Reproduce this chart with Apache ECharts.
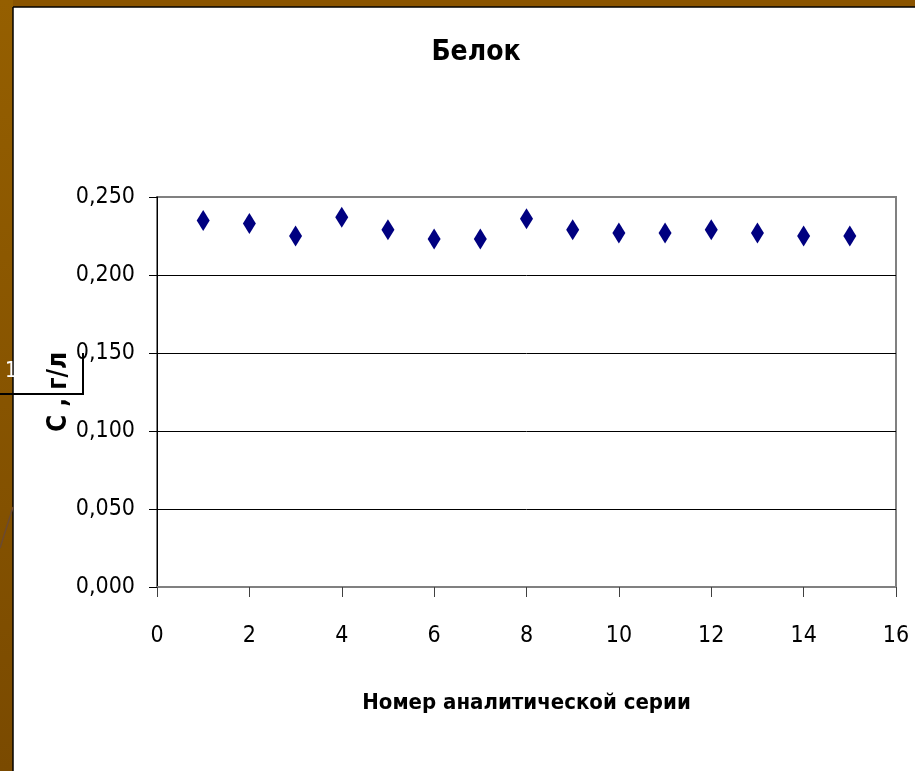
<!DOCTYPE html>
<html>
<head>
<meta charset="utf-8">
<script src="https://cdn.jsdelivr.net/npm/echarts@6/dist/echarts.min.js"></script>
<style>
html,body{margin:0;padding:0;background:#fff;}
#chart{width:915px;height:771px;}
</style>
</head>
<body>
<div id="chart"></div>
<script>
// ---- data ----
const seriesNumbers = [1, 2, 3, 4, 5, 6, 7, 8, 9, 10, 11, 12, 13, 14, 15];
const proteinValues = [0.235, 0.233, 0.225, 0.237, 0.229, 0.223, 0.223, 0.236, 0.229, 0.227, 0.227, 0.229, 0.227, 0.225, 0.225];
const titleText = 'Белок';
const xAxisTitle = 'Номер аналитической серии';
const yAxisTitle = 'С , г/л';

const FONT = "'Liberation Sans Narrow', 'Arial Narrow', 'DejaVu Sans Condensed', sans-serif";

const chart = echarts.init(document.getElementById('chart'), null, {renderer: 'canvas'});
const points = seriesNumbers.map((n, i) => [n, proteinValues[i]]);

chart.setOption({
  backgroundColor: '#ffffff',
  animation: false,
  title: {
    text: titleText,
    left: 471,
    textAlign: 'center',
    top: 34,
    textStyle: {fontFamily: FONT, fontWeight: 'bold', fontSize: 28, color: '#000'}
  },
  grid: {
    left: 157, right: 19, top: 197, bottom: 184,
    show: true, borderColor: '#808080', borderWidth: 2, backgroundColor: '#fff'
  },
  xAxis: {
    type: 'value', min: 0, max: 16, interval: 2,
    name: xAxisTitle, nameLocation: 'middle', nameGap: 105,
    nameTextStyle: {fontFamily: FONT, fontWeight: 'bold', fontSize: 22, color: '#000'},
    axisLine: {show: true, lineStyle: {color: '#808080', width: 2}},
    axisTick: {show: true, length: 10, lineStyle: {color: '#404040', width: 1}},
    axisLabel: {fontFamily: FONT, fontSize: 23, color: '#000', margin: 38},
    splitLine: {show: false}
  },
  yAxis: {
    type: 'value', min: 0, max: 0.25, interval: 0.05,
    name: yAxisTitle, nameLocation: 'middle', nameGap: 85, nameRotate: 90,
    nameMoveOverlap: false,
    nameTextStyle: {fontFamily: FONT, fontWeight: 'bold', fontSize: 26, color: '#000'},
    axisLine: {show: true, lineStyle: {color: '#000', width: 1}},
    axisTick: {show: true, length: 8, lineStyle: {color: '#000', width: 1}},
    axisLabel: {fontFamily: FONT, fontSize: 23, color: '#000', margin: 22,
      formatter: v => v.toFixed(3).replace('.', ',')},
    splitLine: {show: true, showMaxLine: false, lineStyle: {color: '#000', width: 1}}
  },
  series: [{
    type: 'scatter',
    data: points,
    symbol: 'diamond',
    symbolSize: [13, 21],
    itemStyle: {color: '#000080', opacity: 1}
  }],
  graphic: [
    {type: 'rect', left: 0, top: 0, z: 100, shape: {width: 915, height: 7},
      style: {fill: '#8a5400'}},
    {type: 'rect', left: 0, top: 0, z: 100, shape: {width: 13, height: 771},
      style: {fill: new echarts.graphic.LinearGradient(0, 0, 0, 1, [
        {offset: 0, color: '#955f00'}, {offset: 1, color: '#7a4a00'}])}},
    {type: 'line', z: 101, shape: {x1: 13, y1: 7, x2: 915, y2: 7},
      style: {stroke: '#000', lineWidth: 1.5}},
    {type: 'line', z: 101, shape: {x1: 13, y1: 7, x2: 13, y2: 771},
      style: {stroke: '#000', lineWidth: 1.5}},
    {type: 'line', z: 101, shape: {x1: 0, y1: 548, x2: 13, y2: 507},
      style: {stroke: '#6b4a30', lineWidth: 1.5}},
    {type: 'text', z: 102, left: 5, top: 361,
      style: {text: '1', fill: '#fff', font: "21px " + FONT}},
    {type: 'line', z: 102, shape: {x1: 0, y1: 394, x2: 83, y2: 394},
      style: {stroke: '#000', lineWidth: 2}},
    {type: 'line', z: 102, shape: {x1: 83, y1: 353, x2: 83, y2: 395},
      style: {stroke: '#000', lineWidth: 2}}
  ]
});
</script>
</body>
</html>
